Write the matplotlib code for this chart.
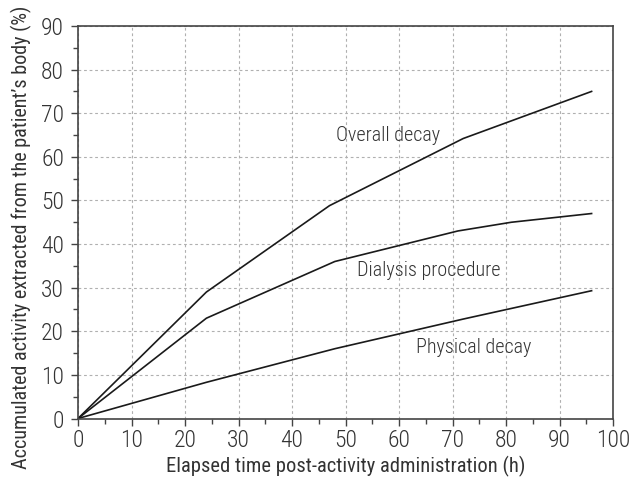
import matplotlib.pyplot as plt
from matplotlib.ticker import MultipleLocator

# elapsed time (h) and accumulated activity (%)
time_overall = [0, 24, 47, 72, 96]
overall = [0, 29, 48.8, 64.2, 75]
time_dialysis = [0, 24, 48, 71, 81, 96]
dialysis = [0, 23, 36, 43, 45, 47]
time_physical = [0, 24, 48, 72, 96]
physical = [0, 8.3, 16.0, 22.8, 29.3]

curve_labels = ["Overall decay", "Dialysis procedure", "Physical decay"]
label_pos = [(58, 65), (65.5, 34), (74, 16.3)]

plt.rcParams['font.family'] = ['Roboto Condensed', 'DejaVu Sans']
plt.rcParams['font.weight'] = 'light'

fig = plt.figure(figsize=(6.41, 4.82), dpi=100)
ax = fig.add_axes([78 / 641, 1 - 418.5 / 482, (613 - 78) / 641, (418.5 - 26) / 482])

ax.plot(time_overall, overall, color='#1a1a1a', lw=1.2)
ax.plot(time_dialysis, dialysis, color='#1a1a1a', lw=1.2)
ax.plot(time_physical, physical, color='#1a1a1a', lw=1.2)

for txt, (x, y) in zip(curve_labels, label_pos):
    ax.text(x, y, txt, ha='center', va='center', fontsize=14.5, color='#333333')

ax.set_xlim(0, 100)
ax.set_ylim(0, 90)
ax.xaxis.set_major_locator(MultipleLocator(10))
ax.xaxis.set_minor_locator(MultipleLocator(5))
ax.yaxis.set_major_locator(MultipleLocator(10))
ax.yaxis.set_minor_locator(MultipleLocator(5))
ax.tick_params(which='major', length=5, width=1, color='#444444', labelsize=17, labelcolor='#333333')
ax.tick_params(which='minor', length=3.5, width=1, color='#444444')
ax.tick_params(axis='x', which='major', pad=2.5)
ax.tick_params(axis='y', which='major', pad=5)

ax.grid(True, which='major', color='#b0b0b0', linestyle=(0, (2.5, 2.5)), lw=0.8)
for s in ax.spines.values():
    s.set_color('#444444')
    s.set_linewidth(1.2)

ax.set_xlabel("Elapsed time post-activity administration (h)", fontsize=14.8, color='#333333', labelpad=3)
ax.set_ylabel("Accumulated activity extracted from the patient’s body (%)", fontsize=14.5, color='#333333')
ax.yaxis.set_label_coords(-0.086, 0.462)

fig.savefig('out.png', dpi=100)
